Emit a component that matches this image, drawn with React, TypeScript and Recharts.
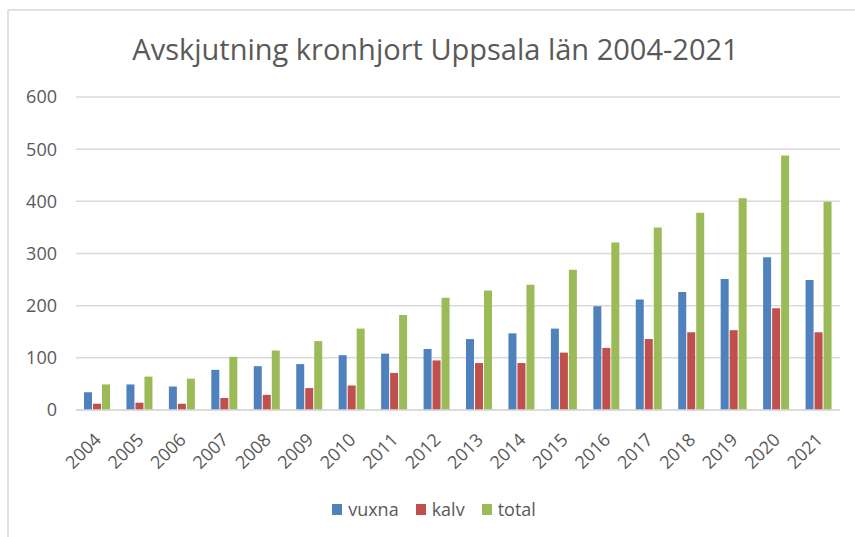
import { BarChart, Bar, XAxis, YAxis, CartesianGrid, Legend } from "recharts";

const years = [
  "2004", "2005", "2006", "2007", "2008", "2009", "2010", "2011", "2012",
  "2013", "2014", "2015", "2016", "2017", "2018", "2019", "2020", "2021",
];
const vuxna = [34, 49, 45, 77, 84, 88, 105, 108, 117, 136, 147, 156, 199, 212, 226, 251, 293, 249];
const kalv = [12, 14, 12, 23, 29, 42, 47, 71, 95, 90, 90, 110, 119, 136, 149, 153, 195, 149];
const total = [49, 64, 60, 102, 114, 132, 156, 182, 215, 229, 240, 269, 321, 350, 378, 406, 488, 399];
const yTicks = [0, 100, 200, 300, 400, 500, 600];

const FONT = "'Open Sans', sans-serif";
const TEXT = "#595959";

const series = [
  { key: "vuxna", color: "#4F81BD" },
  { key: "kalv", color: "#C0504D" },
  { key: "total", color: "#9BBB59" },
];

const data = years.map((year, i) => ({
  year,
  vuxna: vuxna[i],
  kalv: kalv[i],
  total: total[i],
}));

const YearTick = ({ x, y, payload }: any) => (
  <text
    x={x + 5}
    y={y + 31}
    transform={`rotate(-45 ${x + 5} ${y + 31})`}
    textAnchor="end"
    fill={TEXT}
    fontSize={18}
    fontFamily={FONT}
  >
    {payload.value}
  </text>
);

const LegendContent = () => (
  <div
    style={{
      height: 30,
      display: "flex",
      justifyContent: "center",
      alignItems: "center",
      paddingLeft: 30,
      fontFamily: FONT,
      fontSize: 18,
      color: TEXT,
    }}
  >
    {series.map((s) => (
      <div key={s.key} style={{ display: "flex", alignItems: "center", marginRight: 17 }}>
        <span style={{ width: 10, height: 11, background: s.color, marginRight: 6 }} />
        <span>{s.key}</span>
      </div>
    ))}
  </div>
);

export default function App() {
  return (
    <div style={{ position: "absolute", left: 0, top: 0, width: 855, height: 537, overflow: "hidden", background: "#fff" }}>
      <svg width={855} height={537} style={{ position: "absolute", left: 0, top: 0 }}>
        <line x1={8} y1={10} x2={855} y2={10} stroke="#d9d9d9" strokeWidth={1.5} />
        <line x1={8} y1={10} x2={8} y2={537} stroke="#d9d9d9" strokeWidth={1.5} />
        <text x={435.5} y={60} textAnchor="middle" fill={TEXT} fontSize={29} fontFamily={FONT}>
          Avskjutning kronhjort Uppsala län 2004-2021
        </text>
      </svg>
      <div style={{ position: "absolute", left: 0, top: 0 }}>
        <BarChart
          width={855}
          height={537}
          data={data}
          margin={{ top: 97, right: 15, left: 0, bottom: 13 }}
          barCategoryGap={8}
          barGap={1}
        >
          <CartesianGrid vertical={false} stroke="#d9d9d9" strokeWidth={1.5} />
          <XAxis
            dataKey="year"
            height={84}
            interval={0}
            axisLine={{ stroke: "#d9d9d9", strokeWidth: 1.5 }}
            tickLine={false}
            tickSize={0}
            tickMargin={0}
            tick={<YearTick />}
          />
          <YAxis
            width={76}
            domain={[0, 600]}
            ticks={yTicks}
            axisLine={false}
            tickLine={false}
            tickSize={0}
            tickMargin={19}
            tick={{ fill: TEXT, fontSize: 18, fontFamily: FONT }}
          />
          <Legend
            verticalAlign="bottom"
            content={<LegendContent />}
            wrapperStyle={{ left: 0, width: 855 }}
          />
          {series.map((s) => (
            <Bar key={s.key} dataKey={s.key} fill={s.color} isAnimationActive={false} />
          ))}
        </BarChart>
      </div>
    </div>
  );
}
